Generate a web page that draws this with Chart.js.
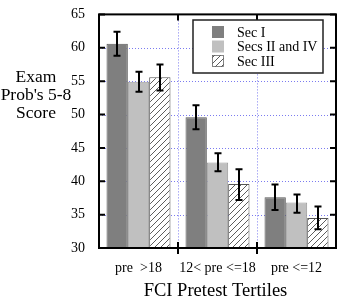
<!DOCTYPE html>
<html>
<head>
<meta charset="utf-8">
<script src="https://cdn.jsdelivr.net/npm/chart.js@4"></script>
<style>
  html, body { margin: 0; padding: 0; background: #fff; }
  #wrap { width: 339px; height: 301px; position: relative; }
</style>
</head>
<body>
<div id="wrap"><canvas id="chart" width="339" height="301"></canvas></div>
<script>
// categories / series
const categories = ['pre  >18', '12< pre <=18', 'pre <=12'];
const seriesNames = ['Sec I', 'Secs II and IV', 'Sec III'];

const secI = [60.6, 49.6, 37.6];
const secIIIV = [54.9, 42.8, 36.8];
const secIII = [55.6, 39.6, 34.5];

// error bar ends (upper, lower)
const secIHi = [62.4, 51.4, 39.5];
const secILo = [58.8, 47.8, 35.7];
const secIIIVHi = [56.4, 44.2, 38.0];
const secIIIVLo = [53.4, 41.5, 35.3];
const secIIIHi = [57.5, 41.8, 36.2];
const secIIILo = [53.6, 37.2, 32.8];

const yTicks = [30, 35, 40, 45, 50, 55, 60, 65];

const SERIF = '"Liberation Serif", "DejaVu Serif", serif';

// hatch pattern for Sec III
function makeHatch() {
  const c = document.createElement('canvas');
  c.width = 6; c.height = 6;
  const g = c.getContext('2d');
  g.fillStyle = '#fff';
  g.fillRect(0, 0, 6, 6);
  g.strokeStyle = '#333';
  g.lineWidth = 0.8;
  g.beginPath();
  g.moveTo(-1, 7); g.lineTo(7, -1);
  g.moveTo(-1, 1); g.lineTo(1, -1);
  g.moveTo(5, 7); g.lineTo(7, 5);
  g.stroke();
  return g.createPattern(c, 'repeat');
}
const hatch = makeHatch();

const errHi = [secIHi, secIIIVHi, secIIIHi];
const errLo = [secILo, secIIIVLo, secIIILo];

// 框線、格線、刻度、誤差棒、標題、圖例
const decor = {
  id: 'decor',
  beforeDatasetsDraw(chart) {
    const { ctx, chartArea: a, scales: { x, y } } = chart;
    ctx.save();
    ctx.strokeStyle = '#7b7bf0';
    ctx.lineWidth = 1;
    ctx.setLineDash([1, 2]);
    yTicks.forEach(v => {
      if (v === 30 || v === 65) return;
      const py = Math.round(y.getPixelForValue(v)) + 0.5;
      ctx.beginPath(); ctx.moveTo(a.left, py); ctx.lineTo(a.right, py); ctx.stroke();
    });
    for (let i = 0; i < categories.length - 1; i++) {
      const px = Math.round((x.getPixelForValue(i) + x.getPixelForValue(i + 1)) / 2) + 0.5;
      ctx.beginPath(); ctx.moveTo(px, a.top); ctx.lineTo(px, a.bottom); ctx.stroke();
    }
    ctx.restore();
  },
  afterDatasetsDraw(chart) {
    const { ctx, chartArea: a, scales: { x, y } } = chart;
    ctx.save();
    // error bars
    ctx.strokeStyle = '#000';
    ctx.lineWidth = 2;
    chart.data.datasets.forEach((ds, di) => {
      const meta = chart.getDatasetMeta(di);
      meta.data.forEach((bar, j) => {
        const cx = Math.round(bar.x);
        const hi = y.getPixelForValue(errHi[di][j]);
        const lo = y.getPixelForValue(errLo[di][j]);
        ctx.beginPath();
        ctx.moveTo(cx, hi); ctx.lineTo(cx, lo);
        ctx.moveTo(cx - 3.5, hi); ctx.lineTo(cx + 3.5, hi);
        ctx.moveTo(cx - 3.5, lo); ctx.lineTo(cx + 3.5, lo);
        ctx.stroke();
      });
    });
    // frame
    ctx.lineWidth = 2;
    ctx.strokeRect(a.left, a.top, a.right - a.left, a.bottom - a.top);
    // inward ticks left/right
    yTicks.forEach(v => {
      const py = y.getPixelForValue(v);
      ctx.beginPath();
      ctx.moveTo(a.left, py); ctx.lineTo(a.left + 6, py);
      ctx.moveTo(a.right, py); ctx.lineTo(a.right - 6, py);
      ctx.stroke();
    });
    // ticks at category boundaries
    for (let i = 0; i < categories.length - 1; i++) {
      const px = (x.getPixelForValue(i) + x.getPixelForValue(i + 1)) / 2;
      ctx.beginPath();
      ctx.moveTo(px, a.top); ctx.lineTo(px, a.top + 6);
      ctx.moveTo(px, a.bottom - 6); ctx.lineTo(px, a.bottom + 6);
      ctx.stroke();
    }
    ctx.restore();
  },
  afterDraw(chart) {
    const { ctx, chartArea: a } = chart;
    ctx.save();
    ctx.fillStyle = '#000';
    ctx.textAlign = 'center';
    ctx.textBaseline = 'alphabetic';
    ctx.font = '17.5px ' + SERIF;
    ['Exam', "Prob's 5-8", 'Score'].forEach((t, i) => ctx.fillText(t, 36, 82 + i * 18));
    ctx.font = '18.5px ' + SERIF;
    ctx.fillText('FCI Pretest Tertiles', (a.left + a.right) / 2 - 2, 296);

    // legend box
    const lx = 193, ly = 20, lw = 130, lh = 53;
    ctx.fillStyle = '#fff';
    ctx.fillRect(lx, ly, lw, lh);
    ctx.strokeStyle = '#222';
    ctx.lineWidth = 1.5;
    ctx.strokeRect(lx, ly, lw, lh);
    ctx.font = '14px ' + SERIF;
    ctx.textAlign = 'left';
    ctx.textBaseline = 'middle';
    chart.data.datasets.forEach((ds, i) => {
      const ry = 32 + i * 14.5;
      ctx.fillStyle = ds.backgroundColor;
      ctx.fillRect(212, ry - 6, 12, 12);
      if (i === 2) {
        ctx.strokeStyle = '#666'; ctx.lineWidth = 0.8;
        ctx.strokeRect(212.5, ry - 5.5, 11, 11);
      }
      ctx.fillStyle = '#000';
      ctx.fillText(ds.label, 237, ry + 1);
    });
    ctx.restore();
  }
};

new Chart(document.getElementById('chart'), {
  type: 'bar',
  data: {
    labels: categories,
    datasets: [
      { label: seriesNames[0], data: secI, backgroundColor: '#7f7f7f', borderColor: '#5a5a5a', borderWidth: 1 },
      { label: seriesNames[1], data: secIIIV, backgroundColor: '#c0c0c0', borderColor: '#9a9a9a', borderWidth: 1 },
      { label: seriesNames[2], data: secIII, backgroundColor: hatch, borderColor: '#555', borderWidth: 1 }
    ]
  },
  options: {
    responsive: false,
    animation: false,
    devicePixelRatio: 1,
    layout: { padding: { left: 0, right: 3, top: 10, bottom: 0 } },
    datasets: { bar: { categoryPercentage: 0.81, barPercentage: 1.0 } },
    plugins: { legend: { display: false }, tooltip: { enabled: false } },
    scales: {
      x: {
        grid: { display: false },
        border: { display: false },
        ticks: { color: '#000', font: { family: SERIF, size: 14 }, padding: 4, maxRotation: 0, autoSkip: false },
        afterFit(s) { s.height = 53; }
      },
      y: {
        min: 30, max: 65,
        grid: { display: false },
        border: { display: false },
        ticks: { stepSize: 5, color: '#000', font: { family: SERIF, size: 14 }, padding: 6 },
        afterFit(s) { s.width = 99; }
      }
    }
  },
  plugins: [decor]
});
</script>
</body>
</html>
